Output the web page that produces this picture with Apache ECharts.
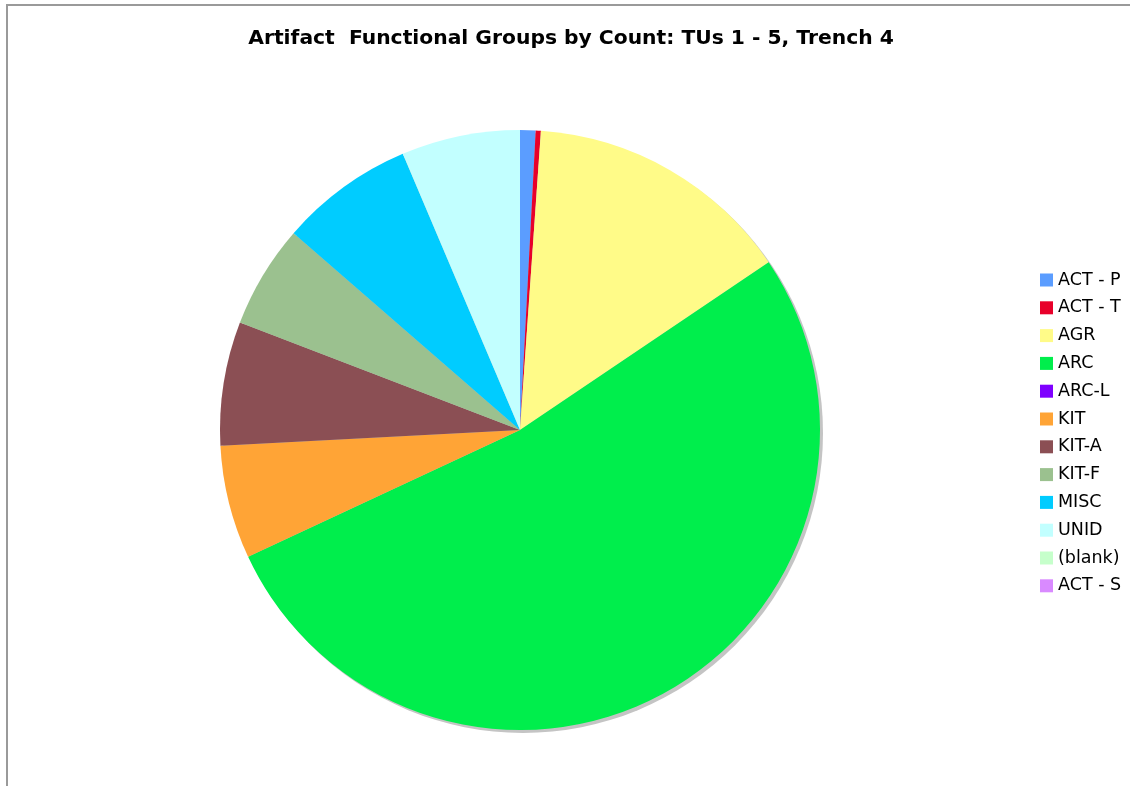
<!DOCTYPE html>
<html>
<head>
<meta charset="utf-8">
<title>Artifact Functional Groups by Count</title>
<script src="https://cdn.jsdelivr.net/npm/echarts@6/dist/echarts.min.js"></script>
<style>
  html, body { margin: 0; padding: 0; background: #ffffff; }
  #chart { width: 1130px; height: 786px; }
</style>
</head>
<body>
<div id="chart"></div>
<script>
// Functional groups and their artifact counts (TUs 1 - 5, Trench 4)
const groups = ['ACT - P', 'ACT - T', 'AGR', 'ARC', 'ARC-L', 'KIT', 'KIT-A', 'KIT-F', 'MISC', 'UNID', '(blank)', 'ACT - S'];
const counts = [3, 1, 52, 189, 0, 22, 24, 20, 26, 23, 0, 0];
const groupColors = ['#5b9dff', '#e8002a', '#fffb88', '#00ee4c', '#7f00ff', '#ffa436', '#8b4f54', '#9bc18f', '#00ccff', '#c2ffff', '#c6ffcb', '#d98aff'];

const chart = echarts.init(document.getElementById('chart'), null, { renderer: 'canvas' });

const pieData = groups.map((g, i) => ({
  name: g,
  value: counts[i],
  itemStyle: { color: groupColors[i] }
}));

const CX = 520, CY = 430, R = 300;

chart.setOption({
  animation: false,
  backgroundColor: '#ffffff',
  title: {
    text: 'Artifact  Functional Groups by Count: TUs 1 - 5, Trench 4',
    left: 566,
    top: 24,
    textAlign: 'center',
    textStyle: {
      fontFamily: 'DejaVu Sans',
      fontWeight: 'bold',
      fontSize: 20.3,
      color: '#000000'
    }
  },
  legend: {
    orient: 'vertical',
    left: 1040,
    top: 271,
    padding: 0,
    itemWidth: 13,
    itemHeight: 13,
    itemGap: 9.8,
    icon: 'rect',
    selectedMode: false,
    data: groups,
    textStyle: {
      fontFamily: 'DejaVu Sans',
      fontSize: 17.5,
      lineHeight: 14,
      color: '#000000'
    }
  },
  graphic: [
    {
      type: 'polyline',
      silent: true,
      shape: { points: [[7, 800], [7, 5], [1140, 5]] },
      style: { stroke: '#9a9a9a', lineWidth: 2, fill: null }
    }
  ],
  series: [
    {
      // drop shadow disc behind the pie
      type: 'pie',
      silent: true,
      z: 1,
      center: [CX + 3, CY + 3],
      radius: R,
      label: { show: false },
      labelLine: { show: false },
      itemStyle: { color: '#c4c4c4', borderWidth: 0 },
      data: [{ name: '__shadow', value: 1 }]
    },
    {
      type: 'pie',
      z: 2,
      center: [CX, CY],
      radius: R,
      startAngle: 90,
      clockwise: true,
      minAngle: 0,
      avoidLabelOverlap: false,
      label: { show: false },
      labelLine: { show: false },
      emphasis: { disabled: true },
      itemStyle: { borderWidth: 0 },
      data: pieData
    }
  ]
});
</script>
</body>
</html>
